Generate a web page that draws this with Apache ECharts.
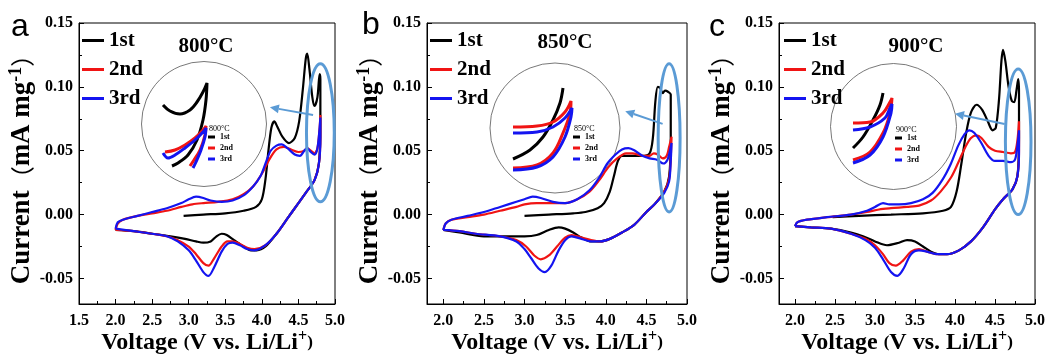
<!DOCTYPE html>
<html>
<head>
<meta charset="utf-8">
<script src="https://cdn.jsdelivr.net/npm/echarts@6/dist/echarts.min.js"></script>
<style>
  html, body { margin: 0; padding: 0; background: #fff; }
  #chart { width: 1048px; height: 356px; }
</style>
</head>
<body>
<div id="chart"></div>
<script>
// cycle names and colours
var cycles = ['1st', '2nd', '3rd'];
var colors = ['#000000', '#f01414', '#1414f0'];
var temps = ['800°C', '850°C', '900°C'];
var letters = ['a', 'b', 'c'];

// panel a (800 °C), [voltage V, current mA/mg]
var a1st = [[2.93,-0.001],[3.2,0.000],[3.5,0.001],[3.75,0.003],[3.92,0.006],[4.0,0.012],[4.05,0.028],[4.09,0.050],[4.13,0.068],[4.17,0.073],[4.21,0.069],[4.28,0.061],[4.37,0.056],[4.45,0.060],[4.51,0.073],[4.56,0.098],[4.60,0.122],[4.62,0.126],[4.65,0.114],[4.69,0.092],[4.72,0.085],[4.76,0.092],[4.79,0.110],[4.80,0.106],[4.80,0.070],[4.78,0.040],[4.72,0.027],[4.6,0.017],[4.5,0.009],[4.35,-0.003],[4.2,-0.015],[4.05,-0.025],[3.93,-0.028],[3.85,-0.028],[3.75,-0.025],[3.62,-0.020],[3.52,-0.016],[3.45,-0.015],[3.38,-0.017],[3.3,-0.021],[3.2,-0.022],[3.1,-0.021],[2.95,-0.019],[2.75,-0.017],[2.5,-0.015],[2.25,-0.013],[2.0,-0.012]];
var a2nd = [[2.0,-0.012],[2.03,-0.007],[2.1,-0.004],[2.3,-0.001],[2.5,0.001],[2.7,0.003],[2.9,0.006],[3.05,0.008],[3.2,0.009],[3.4,0.010],[3.6,0.012],[3.75,0.016],[3.88,0.022],[4.0,0.032],[4.1,0.043],[4.2,0.051],[4.3,0.053],[4.4,0.051],[4.5,0.049],[4.58,0.050],[4.62,0.052],[4.67,0.050],[4.72,0.048],[4.76,0.052],[4.79,0.068],[4.80,0.078],[4.80,0.062],[4.78,0.040],[4.72,0.027],[4.6,0.017],[4.5,0.009],[4.35,-0.003],[4.2,-0.015],[4.05,-0.024],[3.9,-0.027],[3.8,-0.026],[3.7,-0.023],[3.6,-0.021],[3.53,-0.021],[3.45,-0.025],[3.35,-0.034],[3.27,-0.040],[3.2,-0.038],[3.1,-0.031],[3.0,-0.025],[2.85,-0.020],[2.7,-0.017],[2.5,-0.015],[2.25,-0.013],[2.0,-0.012]];
var a3rd = [[2.0,-0.011],[2.03,-0.006],[2.1,-0.004],[2.3,-0.001],[2.5,0.002],[2.7,0.005],[2.9,0.009],[3.0,0.012],[3.1,0.014],[3.2,0.013],[3.3,0.011],[3.45,0.010],[3.6,0.011],[3.75,0.015],[3.88,0.022],[3.98,0.030],[4.05,0.040],[4.12,0.050],[4.2,0.054],[4.27,0.055],[4.35,0.052],[4.45,0.047],[4.52,0.046],[4.58,0.050],[4.62,0.052],[4.67,0.049],[4.72,0.047],[4.76,0.052],[4.79,0.068],[4.80,0.076],[4.80,0.060],[4.78,0.040],[4.72,0.027],[4.6,0.017],[4.5,0.009],[4.35,-0.003],[4.2,-0.015],[4.05,-0.024],[3.9,-0.028],[3.8,-0.027],[3.7,-0.024],[3.6,-0.022],[3.53,-0.023],[3.45,-0.029],[3.35,-0.041],[3.27,-0.048],[3.2,-0.045],[3.1,-0.036],[3.0,-0.028],[2.85,-0.021],[2.7,-0.017],[2.5,-0.015],[2.25,-0.013],[2.0,-0.011]];

// panel b (850 °C)
var b1st = [[3.0,-0.001],[3.3,0.000],[3.6,0.001],[3.75,0.002],[3.9,0.005],[3.98,0.009],[4.05,0.018],[4.1,0.030],[4.15,0.042],[4.2,0.046],[4.3,0.046],[4.45,0.046],[4.54,0.048],[4.58,0.060],[4.61,0.088],[4.64,0.100],[4.67,0.099],[4.70,0.095],[4.73,0.097],[4.77,0.096],[4.80,0.094],[4.80,0.060],[4.78,0.030],[4.72,0.018],[4.6,0.008],[4.5,0.002],[4.35,-0.008],[4.2,-0.014],[4.05,-0.019],[3.93,-0.021],[3.82,-0.021],[3.7,-0.018],[3.6,-0.014],[3.5,-0.011],[3.42,-0.010],[3.3,-0.012],[3.15,-0.016],[3.0,-0.017],[2.8,-0.017],[2.5,-0.017],[2.2,-0.014],[2.0,-0.012]];
var b2nd = [[2.0,-0.012],[2.03,-0.007],[2.1,-0.004],[2.3,-0.002],[2.5,0.000],[2.7,0.003],[2.9,0.006],[3.0,0.008],[3.15,0.009],[3.3,0.009],[3.5,0.009],[3.65,0.012],[3.8,0.018],[3.92,0.027],[4.03,0.037],[4.14,0.044],[4.25,0.048],[4.33,0.048],[4.45,0.046],[4.54,0.046],[4.59,0.048],[4.64,0.047],[4.70,0.044],[4.75,0.046],[4.78,0.053],[4.81,0.061],[4.80,0.045],[4.78,0.028],[4.72,0.018],[4.6,0.008],[4.5,0.002],[4.35,-0.008],[4.2,-0.014],[4.05,-0.019],[3.93,-0.021],[3.82,-0.020],[3.7,-0.018],[3.58,-0.016],[3.5,-0.018],[3.4,-0.025],[3.3,-0.032],[3.2,-0.035],[3.12,-0.032],[3.02,-0.025],[2.9,-0.020],[2.7,-0.017],[2.4,-0.015],[2.2,-0.013],[2.0,-0.012]];
var b3rd = [[2.0,-0.012],[2.03,-0.007],[2.1,-0.004],[2.3,-0.001],[2.5,0.002],[2.7,0.006],[2.9,0.010],[3.0,0.012],[3.1,0.014],[3.2,0.013],[3.35,0.010],[3.5,0.009],[3.65,0.012],[3.8,0.019],[3.92,0.029],[4.02,0.040],[4.12,0.047],[4.2,0.051],[4.28,0.052],[4.36,0.050],[4.45,0.046],[4.54,0.044],[4.63,0.043],[4.71,0.040],[4.76,0.043],[4.79,0.050],[4.81,0.056],[4.80,0.042],[4.78,0.026],[4.72,0.017],[4.6,0.008],[4.5,0.002],[4.35,-0.008],[4.2,-0.014],[4.05,-0.019],[3.93,-0.021],[3.82,-0.021],[3.7,-0.019],[3.58,-0.017],[3.5,-0.020],[3.42,-0.028],[3.33,-0.040],[3.25,-0.045],[3.17,-0.042],[3.08,-0.034],[3.0,-0.027],[2.9,-0.021],[2.7,-0.017],[2.4,-0.015],[2.2,-0.013],[2.0,-0.012]];

// panel c (900 °C)
var c1st = [[2.47,-0.002],[2.8,-0.001],[3.2,0.000],[3.6,0.001],[3.85,0.003],[3.95,0.006],[4.02,0.018],[4.08,0.040],[4.14,0.064],[4.2,0.080],[4.27,0.086],[4.34,0.082],[4.41,0.073],[4.47,0.066],[4.51,0.068],[4.55,0.090],[4.58,0.120],[4.60,0.129],[4.63,0.120],[4.67,0.100],[4.71,0.089],[4.74,0.088],[4.77,0.098],[4.79,0.106],[4.80,0.095],[4.80,0.060],[4.78,0.030],[4.72,0.020],[4.6,0.012],[4.5,0.004],[4.35,-0.010],[4.2,-0.021],[4.05,-0.028],[3.9,-0.031],[3.8,-0.031],[3.7,-0.029],[3.6,-0.025],[3.5,-0.021],[3.4,-0.020],[3.3,-0.022],[3.15,-0.024],[3.0,-0.021],[2.85,-0.017],[2.7,-0.014],[2.45,-0.011],[2.2,-0.010],[2.0,-0.009]];
var c2nd = [[2.0,-0.009],[2.03,-0.006],[2.15,-0.004],[2.4,-0.002],[2.7,0.000],[2.9,0.002],[3.05,0.004],[3.2,0.005],[3.4,0.006],[3.55,0.007],[3.7,0.011],[3.82,0.018],[3.95,0.029],[4.05,0.042],[4.13,0.053],[4.2,0.060],[4.27,0.062],[4.33,0.060],[4.42,0.053],[4.5,0.050],[4.6,0.049],[4.7,0.048],[4.75,0.049],[4.78,0.058],[4.80,0.073],[4.80,0.050],[4.78,0.030],[4.72,0.020],[4.6,0.012],[4.5,0.004],[4.35,-0.010],[4.2,-0.021],[4.05,-0.028],[3.9,-0.031],[3.78,-0.031],[3.65,-0.029],[3.55,-0.027],[3.45,-0.029],[3.35,-0.036],[3.26,-0.040],[3.18,-0.038],[3.1,-0.031],[3.0,-0.024],[2.88,-0.019],[2.7,-0.015],[2.45,-0.011],[2.2,-0.010],[2.0,-0.009]];
var c3rd = [[2.0,-0.009],[2.03,-0.006],[2.15,-0.004],[2.4,-0.002],[2.7,0.000],[2.9,0.003],[3.0,0.006],[3.1,0.009],[3.18,0.008],[3.3,0.008],[3.45,0.009],[3.6,0.012],[3.72,0.017],[3.85,0.028],[3.95,0.040],[4.04,0.054],[4.12,0.063],[4.18,0.066],[4.24,0.064],[4.32,0.057],[4.42,0.046],[4.5,0.042],[4.6,0.042],[4.7,0.041],[4.75,0.043],[4.78,0.054],[4.80,0.066],[4.80,0.048],[4.78,0.030],[4.72,0.020],[4.6,0.012],[4.5,0.004],[4.35,-0.010],[4.2,-0.021],[4.05,-0.028],[3.9,-0.031],[3.78,-0.031],[3.65,-0.029],[3.55,-0.028],[3.45,-0.031],[3.36,-0.042],[3.28,-0.048],[3.2,-0.045],[3.1,-0.035],[3.0,-0.026],[2.88,-0.020],[2.7,-0.015],[2.45,-0.011],[2.2,-0.010],[2.0,-0.009]];

// magnified insets (arbitrary units of the circle box)
var aIn1st = [[23,80],[30,74],[40,71],[50,75],[57,83],[63,93],[67,102],[66,85],[63,65],[57,45],[48,30],[38,22],[32,19]];
var aIn2nd = [[25,33],[35,35],[45,40],[55,47],[63,55],[66,59],[65,50],[60,35],[54,25],[50,19]];
var aIn3rd = [[23,32],[28,27],[35,30],[45,37],[55,45],[64,54],[66,57],[65,48],[61,35],[56,23],[53,17]];
var bIn1st = [[23,34],[40,43],[53,56],[63,73],[70,90],[73,105]];
var bIn2nd = [[23,66],[47,67],[63,71],[75,81],[81,92],[80,80],[73,60],[63,40],[47,28],[23,25]];
var bIn3rd = [[23,60],[47,61],[63,66],[75,75],[82,85],[81,76],[75,56],[63,36],[47,26],[23,23]];
var cIn1st = [[22,42],[32,53],[42,70],[49,85],[52,97]];
var cIn2nd = [[22,67],[39,68],[52,77],[59,88],[61,92],[59,77],[52,57],[39,38],[22,30]];
var cIn3rd = [[22,60],[39,63],[54,72],[59,82],[61,86],[60,77],[52,53],[39,35],[22,27]];

var serif = '"Liberation Serif", "Times New Roman", serif';

// layout of the three panels
var panels = [
    { curves: [a1st, a2nd, a3rd], inset: [aIn1st, aIn2nd, aIn3rd], xMin: 1.5,
      grid: { left: 79, top: 23, width: 256, height: 281 },
      box: { left: 140, top: 63, width: 128, height: 122 },
      legend: [82, 30], mini: [208, 133], letter: [11, 11], temp: [206, 47],
      ring: [4.80, 0.064, 0.19, 0.054], arrow: [[4.70, 0.078], [4.11, 0.084]] },
    { curves: [b1st, b2nd, b3rd], inset: [bIn1st, bIn2nd, bIn3rd], xMin: 1.8,
      grid: { left: 427, top: 23, width: 260, height: 281 },
      box: { left: 490, top: 63, width: 130, height: 130 },
      legend: [430, 30], mini: [573, 133], letter: [362, 9], temp: [565, 43],
      ring: [4.78, 0.060, 0.135, 0.058], arrow: [[4.70, 0.071], [4.24, 0.081]] },
    { curves: [c1st, c2nd, c3rd], inset: [cIn1st, cIn2nd, cIn3rd], xMin: 1.8,
      grid: { left: 779, top: 23, width: 256, height: 281 },
      box: { left: 831, top: 63, width: 125, height: 127 },
      legend: [784, 30], mini: [895, 134], letter: [709, 11], temp: [916, 47],
      ring: [4.79, 0.057, 0.16, 0.057], arrow: [[4.62, 0.071], [4.00, 0.079]] }
];

var grids = [], xAxes = [], yAxes = [], series = [], legends = [], texts = [];

panels.forEach(function (p, i) {
    grids.push(Object.assign({ show: true, borderColor: '#000', borderWidth: 1, backgroundColor: '#fff',
        outerBoundsMode: 'none', containLabel: false }, p.grid));
    xAxes.push({
        type: 'value', gridIndex: i, min: p.xMin, max: 5.0, splitNumber: p.xMin === 1.5 ? 7 : 6,
        axisLine: { onZero: false, lineStyle: { color: '#000', width: 1 } },
        axisTick: { inside: true, length: 5, lineStyle: { color: '#000' } },
        minorTick: { show: true, splitNumber: 2, length: 3, lineStyle: { color: '#000' } },
        splitLine: { show: false },
        axisLabel: { showMinLabel: p.xMin === 1.5, color: '#000', fontFamily: serif, fontWeight: 'bold', fontSize: 16, margin: 9,
            formatter: function (v) { return v.toFixed(1); } },
        name: '{t|Voltage }{p|(}{t|V vs. Li/Li}{s|+}{p|)}',
        nameLocation: 'middle', nameGap: 25, nameMoveOverlap: false,
        nameTextStyle: { rich: {
            t: { fontFamily: serif, fontWeight: 'bold', fontSize: 24, color: '#000' },
            p: { fontFamily: serif, fontWeight: 'bold', fontSize: 17, color: '#000' },
            s: { fontFamily: serif, fontWeight: 'bold', fontSize: 16, color: '#000', padding: [0, 0, 12, 0] }
        } }
    });
    yAxes.push({
        type: 'value', gridIndex: i, min: -0.07, max: 0.15, splitNumber: 5,
        axisLine: { lineStyle: { color: '#000', width: 1 } },
        axisTick: { inside: true, length: 5, lineStyle: { color: '#000' } },
        minorTick: { show: true, splitNumber: 2, length: 3, lineStyle: { color: '#000' } },
        splitLine: { show: false },
        axisLabel: { showMinLabel: false, color: '#000', fontFamily: serif, fontWeight: 'bold', fontSize: 16, margin: 6,
            formatter: function (v) { return v.toFixed(2); } },
        name: '{t|Current}{c|（}{t|mA mg}{s|-1}{c|）}',
        nameLocation: 'middle', nameGap: 34,
        nameTextStyle: { rich: {
            t: { fontFamily: serif, fontWeight: 'bold', fontSize: 27, color: '#000' },
            c: { fontFamily: '"Noto Sans CJK SC"', fontSize: 24, color: '#000' },
            s: { fontFamily: serif, fontWeight: 'bold', fontSize: 18, color: '#000', padding: [0, 0, 12, 0] }
        } }
    });
    p.curves.forEach(function (d, k) {
        series.push({ name: cycles[k], type: 'line', xAxisIndex: i, yAxisIndex: i, data: d,
            showSymbol: false, smooth: 0.3, lineStyle: { width: 2.2, color: colors[k] }, itemStyle: { color: colors[k] } });
    });
    legends.push({ data: cycles, orient: 'vertical', left: p.legend[0], top: p.legend[1], padding: 0, icon: 'rect',
        itemWidth: 22, itemHeight: 3, itemGap: 8, selectedMode: false,
        textStyle: { fontFamily: serif, fontWeight: 'bold', fontSize: 21, color: '#000' } });
    texts.push({ type: 'text', left: p.letter[0], top: p.letter[1],
        style: { text: letters[i], font: '32px "Liberation Sans", Arial, sans-serif', fill: '#000' } });
    texts.push({ type: 'text', x: p.temp[0], y: p.temp[1],
        style: { text: temps[i], font: 'bold 21px ' + serif, fill: '#000', textAlign: 'center', textVerticalAlign: 'middle' } });
});

// inset grids on top of the main ones
panels.forEach(function (p, i) {
    var gi = 3 + i;
    grids.push({ left: p.box.left, top: p.box.top, width: p.box.width, height: p.box.height, outerBoundsMode: 'none' });
    xAxes.push({ type: 'value', gridIndex: gi, min: 0, max: p.box.width, show: false });
    yAxes.push({ type: 'value', gridIndex: gi, min: 0, max: p.box.height, show: false });
    p.inset.forEach(function (d, k) {
        series.push({ name: cycles[k], type: 'line', xAxisIndex: gi, yAxisIndex: gi, data: d,
            showSymbol: false, smooth: 0.35, lineStyle: { width: 3, color: colors[k] }, itemStyle: { color: colors[k] } });
    });
    legends.push({ data: cycles, orient: 'vertical', left: p.mini[0], top: p.mini[1], padding: 0, icon: 'rect',
        itemWidth: 7, itemHeight: 3, itemGap: 3, selectedMode: false,
        textStyle: { fontFamily: serif, fontWeight: 'bold', fontSize: 8, color: '#000' } });
    texts.push({ type: 'circle', shape: { cx: p.box.left + p.box.width / 2, cy: p.box.top + p.box.height / 2,
        r: (p.box.width + p.box.height) / 4 }, style: { fill: 'none', stroke: '#555', lineWidth: 0.8 }, z: 1 });
    texts.push({ type: 'text', x: p.mini[0] + 1, y: p.mini[1] - 4,
        style: { text: temps[i], font: '8px ' + serif, fill: '#000', textVerticalAlign: 'middle' } });
});

var chart = echarts.init(document.getElementById('chart'));
chart.setOption({
    animation: false,
    backgroundColor: '#fff',
    grid: grids, xAxis: xAxes, yAxis: yAxes,
    legend: legends, series: series, graphic: texts
});

// blue ring and arrow placed with the data coordinates of each panel
var marks = [];
panels.forEach(function (p, i) {
    var c = chart.convertToPixel({ gridIndex: i }, [p.ring[0], p.ring[1]]);
    var e = chart.convertToPixel({ gridIndex: i }, [p.ring[0] + p.ring[2], p.ring[1] + p.ring[3]]);
    marks.push({ type: 'ellipse', z: 60,
        shape: { cx: c[0], cy: c[1], rx: Math.abs(e[0] - c[0]), ry: Math.abs(e[1] - c[1]) },
        style: { fill: 'none', stroke: '#5b9bd5', lineWidth: 3 } });
    var t = chart.convertToPixel({ gridIndex: i }, p.arrow[0]);
    var h = chart.convertToPixel({ gridIndex: i }, p.arrow[1]);
    var ang = Math.atan2(h[1] - t[1], h[0] - t[0]);
    var len = 9, wid = 4.5;
    var bx = h[0] - len * Math.cos(ang), by = h[1] - len * Math.sin(ang);
    marks.push({ type: 'line', z: 60, shape: { x1: t[0], y1: t[1], x2: bx, y2: by },
        style: { stroke: '#5b9bd5', lineWidth: 2 } });
    marks.push({ type: 'polygon', z: 60,
        shape: { points: [h, [bx + wid * Math.sin(ang), by - wid * Math.cos(ang)], [bx - wid * Math.sin(ang), by + wid * Math.cos(ang)]] },
        style: { fill: '#5b9bd5' } });
});
chart.setOption({ graphic: texts.concat(marks) });
</script>
</body>
</html>
